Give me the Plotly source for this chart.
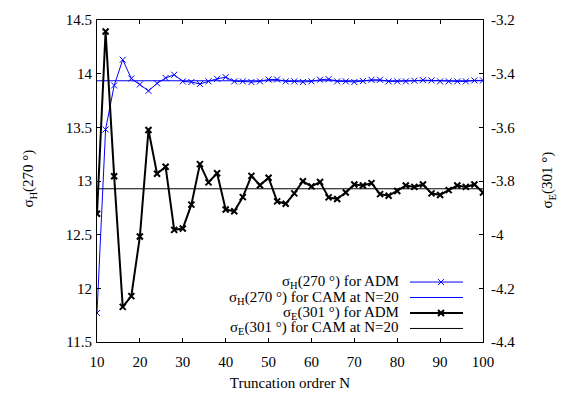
import plotly.graph_objects as go

N = list(range(10, 101, 2))

sigma_H_adm = [11.77, 13.48, 13.89, 14.13, 13.955, 13.90, 13.84, 13.91, 13.96, 13.99,
               13.928, 13.922, 13.904, 13.928, 13.952, 13.967, 13.928, 13.928, 13.922, 13.928,
               13.946, 13.946, 13.928, 13.928, 13.922, 13.928, 13.943, 13.949, 13.928, 13.928,
               13.922, 13.931, 13.943, 13.943, 13.928, 13.928, 13.928, 13.934, 13.940, 13.937,
               13.928, 13.928, 13.928, 13.928, 13.937, 13.937]
sigma_H_cam = 13.934

sigma_E_adm = [-3.922, -3.243, -3.782, -4.269, -4.229, -4.007, -3.610, -3.773, -3.747, -3.982,
               -3.977, -3.888, -3.737, -3.805, -3.771, -3.906, -3.913, -3.860, -3.781, -3.816,
               -3.788, -3.876, -3.885, -3.846, -3.801, -3.820, -3.804, -3.861, -3.867, -3.843,
               -3.813, -3.817, -3.808, -3.849, -3.855, -3.837, -3.817, -3.822, -3.813, -3.846,
               -3.852, -3.834, -3.817, -3.822, -3.813, -3.843]
sigma_E_cam = -3.829

x_ticks = [10, 20, 30, 40, 50, 60, 70, 80, 90, 100]
y_ticks = [11.5, 12, 12.5, 13, 13.5, 14, 14.5]
y_ticktext = ["11.5", "12", "12.5", "13", "13.5", "14", "14.5"]
y2_ticks = [-4.4, -4.2, -4.0, -3.8, -3.6, -3.4, -3.2]
y2_ticktext = ["-4.4", "-4.2", "-4", "-3.8", "-3.6", "-3.4", "-3.2"]

legend_labels = ["σ<sub>H</sub>(270 °) for ADM",
                 "σ<sub>H</sub>(270 °) for CAM at N=20",
                 "σ<sub>E</sub>(301 °) for ADM",
                 "σ<sub>E</sub>(301 °) for CAM at N=20"]

BLUE = "#0000ff"
BLACK = "#000000"
FONT = "Liberation Serif"

fig = go.Figure()
fig.add_trace(go.Scatter(x=N, y=sigma_H_adm, mode="lines+markers",
                         line=dict(color=BLUE, width=1),
                         marker=dict(symbol="x-thin", size=6, line=dict(color=BLUE, width=1)),
                         showlegend=False))
fig.add_trace(go.Scatter(x=[N[0], N[-1]], y=[sigma_H_cam, sigma_H_cam], mode="lines",
                         line=dict(color=BLUE, width=1), showlegend=False))
fig.add_trace(go.Scatter(x=N, y=sigma_E_adm, mode="lines+markers", yaxis="y2",
                         line=dict(color=BLACK, width=2),
                         marker=dict(symbol="x-thin", size=6, line=dict(color=BLACK, width=2)),
                         showlegend=False))
fig.add_trace(go.Scatter(x=[N[0], N[-1]], y=[sigma_E_cam, sigma_E_cam], mode="lines", yaxis="y2",
                         line=dict(color=BLACK, width=1), showlegend=False))

W, H = 568, 401
L, R, T, B = 97, 85, 12, 56
pw, ph = W - L - R, H - T - B
def px(x):
    return (x - L) / pw
def py(y):
    return (H - B - y) / ph

rows = [283, 299, 315, 331]
colors = [BLUE, BLUE, BLACK, BLACK]
widths = [1, 1, 2, 1]
markers = [True, False, True, False]
shapes = []
annotations = []
for lab, ry, c, w, m in zip(legend_labels, rows, colors, widths, markers):
    annotations.append(dict(x=px(401), y=py(ry), xref="paper", yref="paper", text=lab,
                            showarrow=False, xanchor="right", yanchor="middle",
                            font=dict(family=FONT, size=15, color="black")))
    shapes.append(dict(type="line", xref="paper", yref="paper", x0=px(410), x1=px(463),
                       y0=py(ry), y1=py(ry), line=dict(color=c, width=w)))
    if m:
        shapes.append(dict(type="path", xref="paper", yref="paper",
                           xsizemode="pixel", ysizemode="pixel",
                           xanchor=px(441), yanchor=py(ry),
                           path="M -3 -3 L 3 3 M -3 3 L 3 -3",
                           line=dict(color=c, width=w)))

annotations.append(dict(x=px(29), y=py(176), xref="paper", yref="paper",
                        text="σ<sub>H</sub>(270 °)", textangle=-90, showarrow=False,
                        xanchor="center", yanchor="middle",
                        font=dict(family=FONT, size=15, color="black")))
annotations.append(dict(x=px(548), y=py(178), xref="paper", yref="paper",
                        text="σ<sub>E</sub>(301 °)", textangle=-90, showarrow=False,
                        xanchor="center", yanchor="middle",
                        font=dict(family=FONT, size=15, color="black")))

axis_common = dict(showgrid=False, zeroline=False, showline=True, linecolor="black",
                   linewidth=1, ticks="inside", ticklen=4, tickcolor="black",
                   tickfont=dict(family=FONT, size=15, color="black"))

fig.update_layout(
    width=W, height=H,
    margin=dict(l=L, r=R, t=T, b=B),
    paper_bgcolor="white", plot_bgcolor="white",
    font=dict(family=FONT, size=15, color="black"),
    xaxis=dict(range=[10, 100], tickvals=x_ticks, mirror="ticks",
               title=dict(text="Truncation ordrer N", font=dict(family=FONT, size=15), standoff=8),
               ticklabelstandoff=6, **axis_common),
    yaxis=dict(range=[11.5, 14.5], tickvals=y_ticks, ticktext=y_ticktext, mirror=True,
               ticklabelstandoff=1, **axis_common),
    yaxis2=dict(range=[-4.4, -3.2], tickvals=y2_ticks, ticktext=y2_ticktext,
                overlaying="y", side="right", ticklabelstandoff=4, **axis_common),
    shapes=shapes, annotations=annotations,
    showlegend=False,
)

fig.write_html("out.html", config={"displayModeBar": False},
               post_script="document.body.style.margin='0px';document.body.style.padding='0px';")
